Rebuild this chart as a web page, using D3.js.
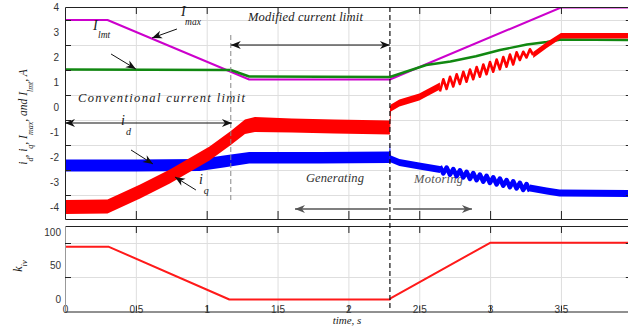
<!DOCTYPE html>
<html>
<head>
<meta charset="utf-8">
<script src="https://cdn.jsdelivr.net/npm/d3@7"></script>
<style>
body{margin:0;background:#fff;}
svg{display:block;}
.lab{font-family:"Liberation Sans",Arial,sans-serif;font-size:10px;fill:#333;}
.note{font-family:"Liberation Serif","Times New Roman",serif;font-style:italic;fill:#1a1a1a;}
</style>
</head>
<body>
<svg id="chart" width="628" height="328"></svg>
<script>
// ---- data ----
let xTicks = [0, 0.5, 1, 1.5, 2, 2.5, 3, 3.5];
let xTickLabels = ["0", "0.5", "1", "1.5", "2", "2.5", "3", "3.5"];
let topLabels = [4, 3, 2, 1, 0, -1, -2, -3, -4];
let topGrid = [3.5, 2.5, 1.5, 0.5, -0.5, -1.5, -2.5, -3.5];
let botLabels = [100, 50, 0];
let botGrid = [83.7, 33.3];

// I_max (magenta)
let imaxTime = [0, 0.30, 1.30, 2.293, 3.50, 4.0];
let imaxVal  = [3.5, 3.5, 1.12, 1.12, 4.0, 4.0];

// I_lmt (green)
let lmtTime = [0, 0.6, 1.17, 1.30, 2.293, 2.40, 2.55, 2.72, 2.90, 3.07, 3.26, 3.40, 3.50, 4.0];
let lmtVal  = [1.52, 1.51, 1.50, 1.24, 1.22, 1.42, 1.70, 1.84, 2.05, 2.30, 2.52, 2.62, 2.72, 2.70];

// i_q (red) noisy band, generating part
let iqGenTime = [0, 0.30, 0.53, 0.74, 1.02, 1.17, 1.27, 1.34, 1.60, 1.90, 2.10, 2.293];
let iqGenHi   = [-3.70, -3.68, -3.08, -2.48, -1.56, -0.94, -0.48, -0.38, -0.44, -0.48, -0.50, -0.52];
let iqGenLo   = [-4.26, -4.24, -3.64, -3.04, -2.12, -1.50, -1.06, -0.98, -1.00, -1.04, -1.06, -1.08];
// i_q after the switch
let iqMotTime = [2.293, 2.30, 2.36, 2.50, 2.646];
let iqMotHi   = [0.04, 0.12, 0.32, 0.56, 1.00];
let iqMotLo   = [-1.08, -0.16, 0.04, 0.28, 0.72];
let iqOscTime = [2.646, 2.670, 2.693, 2.717, 2.740, 2.764, 2.787, 2.811, 2.834, 2.858, 2.881, 2.905, 2.928, 2.952, 2.975,
                 2.999, 3.022, 3.046, 3.069, 3.093, 3.116, 3.140, 3.163, 3.187, 3.210, 3.234, 3.257, 3.281, 3.304];
let iqOscVal  = [0.64, 1.13, 0.74, 1.23, 0.84, 1.33, 0.94, 1.43, 1.03, 1.52, 1.13, 1.62, 1.23, 1.72, 1.33,
                 1.82, 1.43, 1.92, 1.53, 2.02, 1.63, 2.12, 1.72, 2.21, 1.90, 2.23, 2.00, 2.33, 2.10];
let iqEndTime = [3.304, 3.40, 3.50, 4.0];
let iqEndHi   = [2.22, 2.62, 2.98, 2.98];
let iqEndLo   = [1.98, 2.38, 2.76, 2.76];

// i_d (blue)
let idGenTime = [0, 0.50, 0.95, 1.12, 1.30, 1.80, 2.288, 2.293];
let idGenHi   = [-2.08, -2.08, -2.06, -1.92, -1.78, -1.78, -1.76, -1.44];
let idGenLo   = [-2.56, -2.56, -2.54, -2.40, -2.24, -2.24, -2.22, -2.22];
let idMotTime = [2.293, 2.30, 2.36, 2.50, 2.646];
let idMotHi   = [-1.44, -1.92, -2.06, -2.20, -2.34];
let idMotLo   = [-2.22, -2.20, -2.34, -2.48, -2.62];
let idOscTime = [2.646, 2.670, 2.693, 2.717, 2.740, 2.764, 2.787, 2.811, 2.834, 2.858, 2.881, 2.905, 2.928, 2.952,
                 2.975, 2.999, 3.022, 3.046, 3.069, 3.093, 3.116, 3.140, 3.163, 3.187, 3.210, 3.234, 3.257, 3.281];
let idOscVal  = [-2.35, -2.64, -2.40, -2.69, -2.46, -2.75, -2.51, -2.80, -2.57, -2.86, -2.62, -2.91, -2.68, -2.97,
                 -2.73, -3.02, -2.79, -3.08, -2.84, -3.13, -2.90, -3.19, -2.95, -3.24, -3.01, -3.30, -3.06, -3.35];
let idEndTime = [3.281, 3.40, 3.49, 4.0];
let idEndHi   = [-3.08, -3.20, -3.28, -3.30];
let idEndLo   = [-3.36, -3.48, -3.56, -3.58];

// k_iv (bottom plot)
let kivTime = [0, 0.31, 1.16, 2.293, 2.30, 3.0, 4.0];
let kivVal  = [78, 78, 0, 0, 2, 84, 84];

let tSwitch = 2.293;
let tModStart = 1.17;

// ---- layout ----
let svg = d3.select("#chart");
let x  = d3.scaleLinear().domain([0, 4]).range([65, 631.8]);
let yT = d3.scaleLinear().domain([-4.46, 4.02]).range([219, 7]);
let yB = d3.scaleLinear().domain([-17.8, 108.9]).range([311.5, 226]);

let defs = svg.append("defs");
defs.append("clipPath").attr("id", "clipT").append("rect")
  .attr("x", 65).attr("y", 7).attr("width", 567).attr("height", 212);
defs.append("clipPath").attr("id", "clipB").append("rect")
  .attr("x", 65).attr("y", 226).attr("width", 567).attr("height", 85.5);

function grid(g, ys, yTop, yBot, gridVals) {
  g.append("g").attr("transform", `translate(0,${yBot})`)
    .call(d3.axisBottom(x).tickValues(xTicks.slice(1)).tickSize(-(yBot - yTop)).tickFormat(""))
    .call(a => a.select(".domain").remove())
    .selectAll("line").attr("stroke", "#dedede");
  g.append("g").attr("transform", "translate(65,0)")
    .call(d3.axisLeft(ys).tickValues(gridVals).tickSize(-567).tickFormat(""))
    .call(a => a.select(".domain").remove())
    .selectAll("line").attr("stroke", "#dedede");
}

function frame(g, ys, yTop, yBot, gridVals, leftColor) {
  g.append("g").attr("transform", `translate(0,${yTop})`).attr("color", "#222")
    .call(d3.axisTop(x).tickValues(xTicks.slice(1)).tickSizeInner(-7).tickSizeOuter(0).tickFormat(""));
  g.append("g").attr("transform", "translate(65,0)").attr("color", leftColor)
    .call(d3.axisLeft(ys).tickValues(gridVals).tickSizeInner(-6).tickSizeOuter(0).tickFormat(""))
    .selectAll(".tick line").attr("stroke", "#222");
  g.append("g").attr("transform", "translate(631.8,0)").attr("color", "#222")
    .call(d3.axisRight(ys).tickValues(gridVals).tickSizeInner(-6).tickSizeOuter(0).tickFormat(""));
}

function band(g, ys, t, hi, lo, color) {
  g.append("path").datum(d3.zip(t, hi, lo))
    .attr("d", d3.area().x(d => x(d[0])).y0(d => ys(d[2])).y1(d => ys(d[1])))
    .attr("fill", color);
}
function curve(g, ys, t, v, color, w) {
  g.append("path").datum(d3.zip(t, v))
    .attr("d", d3.line().x(d => x(d[0])).y(d => ys(d[1])))
    .attr("fill", "none").attr("stroke", color).attr("stroke-width", w)
    .attr("stroke-linejoin", "round");
}

// ---- top plot ----
let topG = svg.append("g");
grid(topG, yT, 7, 219, topGrid);

let notesUnder = topG.append("g");
let dataT = topG.append("g").attr("clip-path", "url(#clipT)");
curve(dataT, yT, imaxTime, imaxVal, "#cc00cc", 2);
curve(dataT, yT, lmtTime, lmtVal, "#118811", 2.4);
band(dataT, yT, idGenTime, idGenHi, idGenLo, "#0000ff");
band(dataT, yT, idMotTime, idMotHi, idMotLo, "#0000ff");
curve(dataT, yT, idOscTime, idOscVal, "#0000ff", 4.5);
band(dataT, yT, idEndTime, idEndHi, idEndLo, "#0000ff");
band(dataT, yT, iqGenTime, iqGenHi, iqGenLo, "#ff0000");
band(dataT, yT, iqMotTime, iqMotHi, iqMotLo, "#ff0000");
curve(dataT, yT, iqOscTime, iqOscVal, "#ff0000", 2.6);
band(dataT, yT, iqEndTime, iqEndHi, iqEndLo, "#ff0000");

// bottom border of top plot (no labels)
topG.append("g").attr("transform", "translate(0,219)").attr("color", "#222")
  .call(d3.axisBottom(x).tickValues(xTicks.slice(1)).tickSizeInner(-8).tickSizeOuter(0).tickFormat(""));
frame(topG, yT, 7, 219, topGrid, "#222");

topG.selectAll("text.ylab").data(topLabels).join("text")
  .attr("class", "lab ylab")
  .attr("x", 59).attr("y", d => yT(d)).attr("dy", "0.35em")
  .attr("text-anchor", "end")
  .text(d => d);

// ---- bottom plot ----
let botG = svg.append("g");
grid(botG, yB, 226, 311.5, botGrid);
let dataB = botG.append("g").attr("clip-path", "url(#clipB)");
curve(dataB, yB, kivTime, kivVal, "#ff1a1a", 2);

let xAxisB = botG.append("g").attr("transform", "translate(0,311.5)").attr("color", "#222")
  .call(d3.axisBottom(x).tickValues(xTicks).tickFormat((d, i) => xTickLabels[i])
    .tickSizeInner(-6).tickSizeOuter(0).tickPadding(-5.5));
xAxisB.selectAll("text").attr("class", "lab");
xAxisB.selectAll(".tick line").raise();
xAxisB.attr("font-family", null).attr("font-size", null);
frame(botG, yB, 226, 311.5, botGrid, "#999");

botG.selectAll("text.ylab").data(botLabels).join("text")
  .attr("class", "lab ylab")
  .attr("x", 61).attr("y", d => yB(d)).attr("dy", "0.35em")
  .attr("text-anchor", "end")
  .text(d => d);

// ---- switching instants ----
svg.append("line")
  .attr("x1", x(tSwitch)).attr("x2", x(tSwitch)).attr("y1", 7).attr("y2", 311)
  .attr("stroke", "#111").attr("stroke-width", 1.2).attr("stroke-dasharray", "5,3");
svg.append("line")
  .attr("x1", x(tModStart)).attr("x2", x(tModStart)).attr("y1", yT(2.9)).attr("y2", yT(-3.7))
  .attr("stroke", "#888").attr("stroke-width", 1).attr("stroke-dasharray", "5,3");

// ---- annotations ----
function note(g, t, v, str, size, width, color) {
  let el = g.append("text").attr("class", "note")
    .attr("x", x(t)).attr("y", yT(v)).attr("font-size", size).text(str);
  if (width) el.attr("textLength", width).attr("lengthAdjust", "spacing");
  if (color) el.style("fill", color);
}
note(notesUnder, 1.291, 3.46, "Modified current limit", 12.5, 115);
note(notesUnder, 0.092, 0.22, "Conventional current limit", 12.5, 167);
note(notesUnder, 1.70, -2.98, "Generating", 12.5, 58, "#333");
note(notesUnder, 2.463, -3.02, "Motoring", 12.5, 49, "#555");

let ann = svg.append("g");
note(ann, 0.819, 3.66, "I", 14);
note(ann, 0.847, 3.30, "max", 9.5);
note(ann, 0.198, 3.10, "I", 14);
note(ann, 0.233, 2.78, "lmt", 9.5);
note(ann, 0.395, -0.70, "i", 14);
note(ann, 0.43, -1.10, "d", 10);
note(ann, 0.946, -3.06, "i", 14);
note(ann, 0.98, -3.46, "q", 10);

function head(g, x1, y1, x2, y2, color) {
  let a = Math.atan2(y2 - y1, x2 - x1);
  let c = Math.cos(a), s = Math.sin(a);
  let L = 10, hw = 4, n = 7;
  let p = [[x2, y2],
           [x2 - L * c - hw * s, y2 - L * s + hw * c],
           [x2 - n * c, y2 - n * s],
           [x2 - L * c + hw * s, y2 - L * s - hw * c]];
  g.append("path").attr("d", "M" + p.join("L") + "Z").attr("fill", color);
}
function arrow(g, t1, v1, t2, v2, color, w, both) {
  let x1 = x(t1), y1 = yT(v1), x2 = x(t2), y2 = yT(v2);
  g.append("line").attr("x1", x1).attr("y1", y1).attr("x2", x2).attr("y2", y2)
    .attr("stroke", color).attr("stroke-width", w);
  head(g, x1, y1, x2, y2, color);
  if (both) head(g, x2, y2, x1, y1, color);
}
arrow(ann, 0.79, 3.14, 0.614, 2.78, "#111", 1);
arrow(ann, 0.325, 2.14, 0.50, 1.54, "#111", 1);
arrow(ann, 0.466, -1.70, 0.621, -2.26, "#111", 1);
arrow(ann, 0.924, -3.30, 0.776, -2.78, "#111", 1);
arrow(ann, tModStart, 2.5, tSwitch, 2.5, "#111", 1.2, true);
arrow(ann, 0.0, -0.62, 1.178, -0.62, "#111", 1.2, true);
arrow(ann, 2.28, -4.06, 1.623, -4.06, "#555", 1.5);
arrow(ann, 2.315, -4.06, 2.872, -4.06, "#555", 1.5);

// ---- axis titles ----
let yl = svg.append("text").attr("class", "note").attr("font-size", 11.5)
  .attr("text-anchor", "middle")
  .attr("transform", "translate(27,117) rotate(-90)");
[["i", 0], ["d", 1], [", i", 0], ["q", 1], [", I", 0], ["max", 1], [", and I", 0], ["lmt", 1], [", A", 0]]
  .forEach(function (p, i, arr) {
    let prevSub = i > 0 && arr[i - 1][1];
    yl.append("tspan")
      .attr("dy", p[1] ? 6 : (prevSub ? -6 : 0))
      .attr("font-size", p[1] ? 8 : 11.5)
      .text(p[0]);
  });

let kl = svg.append("text").attr("class", "note").attr("font-size", 12)
  .attr("text-anchor", "middle")
  .attr("transform", "translate(22,266) rotate(-90)");
kl.append("tspan").text("k");
kl.append("tspan").attr("dy", 5).attr("font-size", 8.5).text("iv");

svg.append("text").attr("class", "note").attr("font-size", 11)
  .attr("x", 347).attr("y", 324).attr("text-anchor", "middle").text("time, s");
</script>
</body>
</html>
